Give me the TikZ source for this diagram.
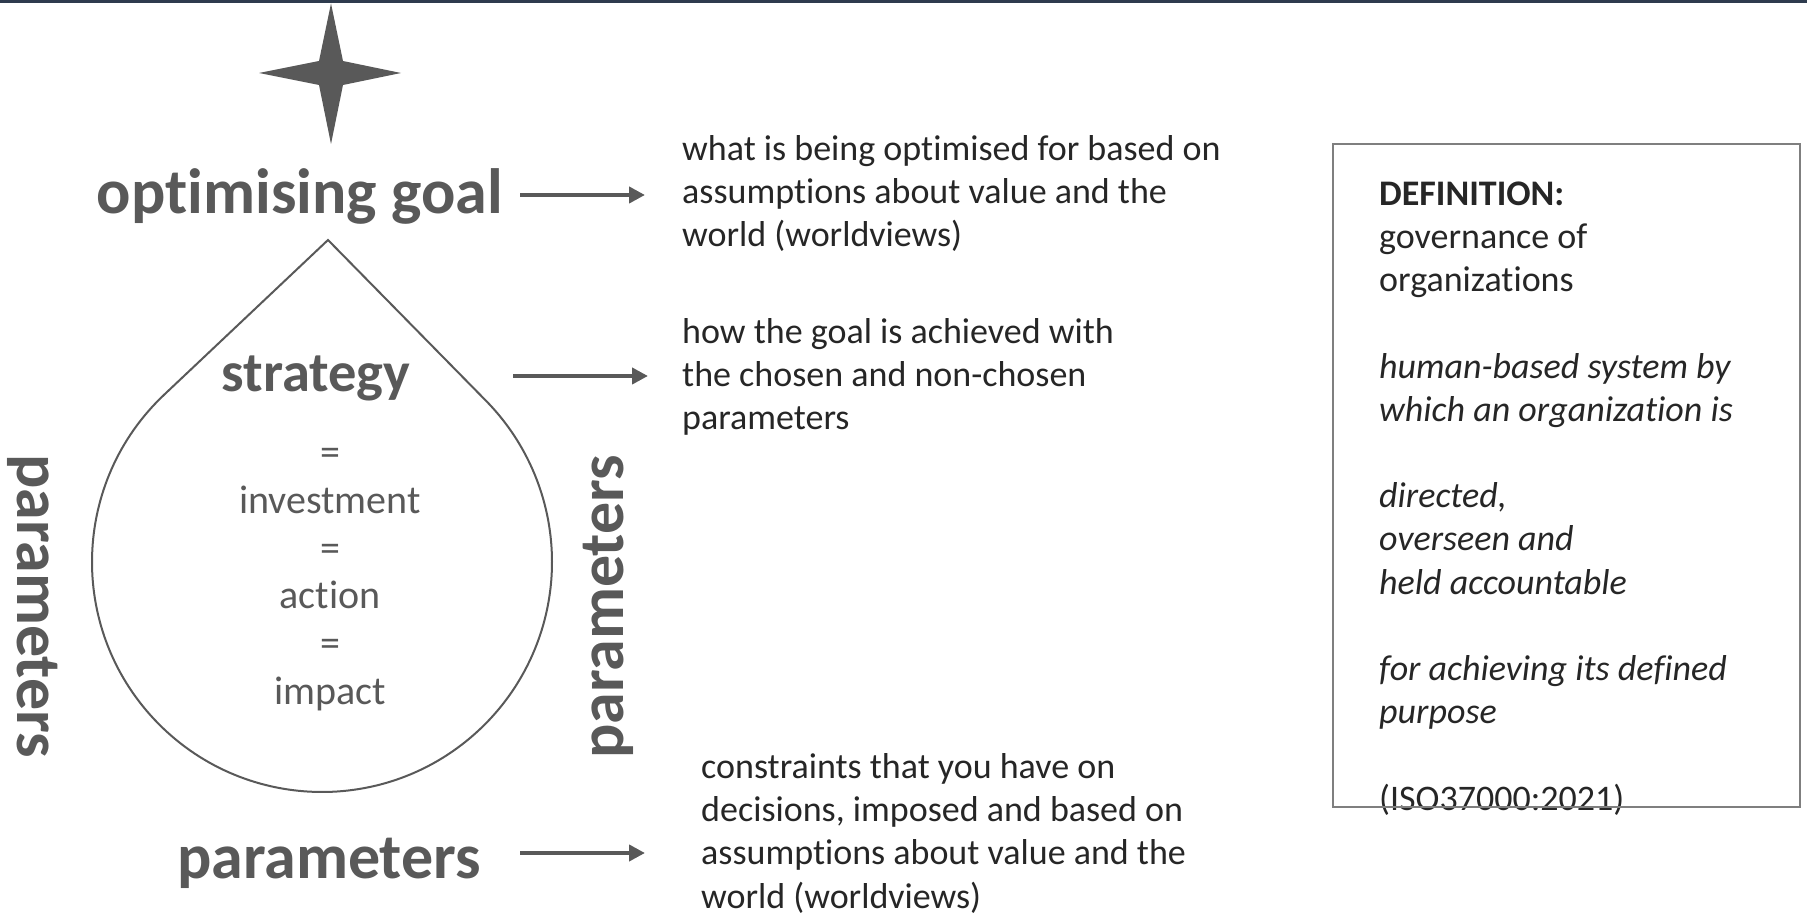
\documentclass[tikz,border=0pt]{standalone}
\usepackage{fontspec}
\setmainfont{Carlito}[Ligatures={NoCommon,NoContextual}]
\usetikzlibrary{arrows.meta,calc}
\definecolor{lab}{HTML}{595959}
\definecolor{txt}{HTML}{262626}
\definecolor{bar}{HTML}{2E3B4E}
\definecolor{boxc}{HTML}{7F7F7F}
\begin{document}
\begin{tikzpicture}[x=1pt,y=1pt,
  big/.style={font=\fontsize{64}{76}\selectfont\bfseries, text=lab, inner sep=0pt},
  mid/.style={font=\fontsize{40}{48}\selectfont, text=lab, inner sep=0pt, anchor=base},
  desc/.style={font=\fontsize{36}{43.2}\selectfont, text=txt, inner sep=0pt, align=left, anchor=base west},
  arr/.style={draw=lab, line width=4.5pt, -{Triangle[length=16pt,width=16pt]}},
  dropline/.style={draw=lab, line width=2pt},
]
\useasboundingbox (0,0) rectangle (1807,914);
% top bar
\fill[bar] (0,911) rectangle (1807,914);
% star
\fill[lab] (331,910.5) -- (343,853) -- (401,841) -- (343,829) -- (331,770)
  -- (319,829) -- (259,841) -- (319,853) -- cycle;
% drop
\coordinate (dc) at (322,352);
\coordinate (tip) at (328,674);
\draw[dropline] (tip) -- ($(dc)+(133.3:230)$) arc[start angle=133.3, end angle=404.5, radius=230] -- cycle;
% labels
\node[big, anchor=base] (goal) at (300,700) {optimising goal};
\node[big, anchor=base, font=\fontsize{56.5}{68}\selectfont\bfseries] (strat) at (316,522.5) {strategy};
\node[mid] (e1) at (330,448) {=};
\node[mid] (inv) at (330,400.4) {investment};
\node[mid] (e2) at (330,352.8) {=};
\node[mid] (act) at (330,305.2) {action};
\node[mid] (e3) at (330,257.6) {=};
\node[mid] (imp) at (330,210) {impact};
\node[big, rotate=-90] (pleft) at (33,308) {parameters};
\node[big, rotate=90] (pright) at (608,307) {parameters};
\node[big, anchor=base] (pbot) at (329,36) {parameters};
% descriptions (base = last line)
\node[desc] (d1) at (682,667) {what is being optimised for based on\\assumptions about value and the\\world (worldviews)};
\node[desc] (d2) at (682,484) {how the goal is achieved with\\the chosen and non-chosen\\parameters};
\node[desc] (d3) at (701,6) {constraints that you have on\\decisions, imposed and based on\\assumptions about value and the\\world (worldviews)};
% arrows
\coordinate (a1s) at (520,719); \coordinate (a1e) at (645,719);
\coordinate (a2s) at (513,538); \coordinate (a2e) at (648,538);
\coordinate (a3s) at (520,61);  \coordinate (a3e) at (645,61);
\draw[arr] (a1s) -- (a1e);
\draw[arr] (a2s) -- (a2e);
\draw[arr] (a3s) -- (a3e);
% definition box
\node[desc] (def) at (1379,104) {\textbf{DEFINITION:}\\governance of\\organizations\\[43.2pt]\textit{human-based system by}\\\textit{which an organization is}\\[43.2pt]\textit{directed,}\\\textit{overseen and}\\\textit{held accountable}\\[43.2pt]\textit{for achieving its defined}\\\textit{purpose}\\[43.2pt](ISO37000:2021)};
\draw[boxc, line width=1.5pt] (1333,770) rectangle (1800,107);
\end{tikzpicture}
\end{document}
